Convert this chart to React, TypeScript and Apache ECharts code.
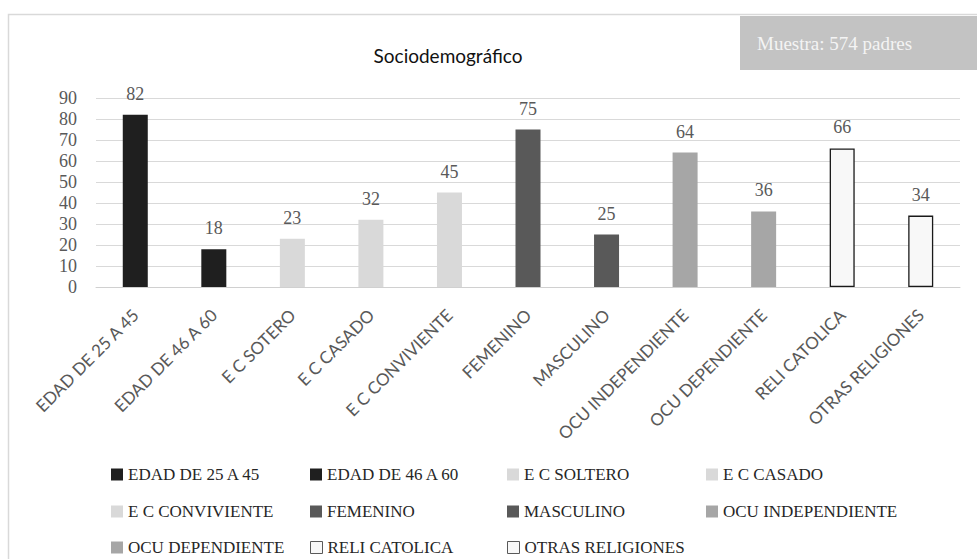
import React, { useEffect, useRef } from "react";
import * as echarts from "echarts";

// Categories on the x axis
const categories = [
  "EDAD DE 25 A 45",
  "EDAD DE 46 A 60",
  "E C SOTERO",
  "E C CASADO",
  "E C CONVIVIENTE",
  "FEMENINO",
  "MASCULINO",
  "OCU INDEPENDIENTE",
  "OCU DEPENDIENTE",
  "RELI CATOLICA",
  "OTRAS RELIGIONES",
];

// Series names as shown in the legend
const seriesNames = [
  "EDAD DE 25 A 45",
  "EDAD DE 46 A 60",
  "E C SOLTERO",
  "E C CASADO",
  "E C CONVIVIENTE",
  "FEMENINO",
  "MASCULINO",
  "OCU INDEPENDIENTE",
  "OCU DEPENDIENTE",
  "RELI CATOLICA",
  "OTRAS RELIGIONES",
];

// Values per category
const values = [82, 18, 23, 32, 45, 75, 25, 64, 36, 66, 34];

// Fill colours per series
const colors = [
  "#1f1f1f",
  "#1f1f1f",
  "#d9d9d9",
  "#d9d9d9",
  "#d9d9d9",
  "#595959",
  "#595959",
  "#a6a6a6",
  "#a6a6a6",
  "#f8f8f8",
  "#f8f8f8",
];

// Outlined bars
const outlined = [false, false, false, false, false, false, false, false, false, true, true];

// Y axis ticks
const yMin = 0;
const yMax = 90;
const yStep = 10;

// Legend grid: 4 columns, items fill row by row
const legendColumnX = [111, 310, 507, 706];
const legendRowY = [472, 509, 545];

const SERIF = "'Liberation Serif', 'DejaVu Serif', serif";
const SANS = "Lato, 'Open Sans', sans-serif";

export default function App() {
  const ref = useRef<HTMLDivElement>(null);

  useEffect(() => {
    if (!ref.current) return;
    const chart = echarts.init(ref.current, undefined, { renderer: "svg" });

    const series = seriesNames.map((name, i) => ({
      name,
      type: "bar",
      stack: "all",
      barWidth: 25,
      data: values.map((v, j) => (j === i ? v : "-")),
      itemStyle: {
        color: colors[i],
        borderColor: outlined[i] ? "#1a1a1a" : colors[i],
        borderWidth: outlined[i] ? 1.3 : 0,
      },
      label: {
        show: true,
        position: "top",
        distance: 12,
        color: "#595959",
        fontFamily: SERIF,
        fontSize: 18,
      },
      emphasis: { disabled: true },
    }));

    const legends = seriesNames.map((name, i) => ({
      orient: "horizontal",
      left: legendColumnX[i % 4],
      top: legendRowY[Math.floor(i / 4)] - 6,
      padding: 0,
      itemWidth: 12,
      itemHeight: 12,
      icon: "rect",
      selectedMode: false,
      data: [
        {
          name,
          itemStyle: outlined[i]
            ? { color: "#f8f8f8", borderColor: "#595959", borderWidth: 1 }
            : { color: colors[i], borderWidth: 0 },
        },
      ],
      textStyle: {
        color: "#262626",
        fontFamily: SERIF,
        fontSize: 17,
      },
    }));

    chart.setOption({
      animation: false,
      backgroundColor: "#ffffff",
      grid: { left: 96, right: 17, top: 98, bottom: 272, containLabel: false },
      legend: legends,
      xAxis: {
        type: "category",
        data: categories,
        axisTick: { show: false },
        axisLine: { show: true, lineStyle: { color: "#d0d0d0", width: 1 } },
        axisLabel: {
          rotate: 45,
          interval: 0,
          margin: 25,
          color: "#595959",
          fontFamily: SANS,
          fontSize: 17,
        },
      },
      yAxis: {
        type: "value",
        min: yMin,
        max: yMax,
        interval: yStep,
        axisLine: { show: false },
        axisTick: { show: false },
        splitLine: { lineStyle: { color: "#d9d9d9", width: 1 } },
        axisLabel: {
          margin: 19,
          color: "#595959",
          fontFamily: SERIF,
          fontSize: 18,
        },
      },
      graphic: [
        {
          type: "rect",
          silent: true,
          shape: { x: 8.5, y: 14.5, width: 1000, height: 700 },
          style: { fill: "none", stroke: "#d9d9d9", lineWidth: 1.5 },
        },
        {
          type: "rect",
          silent: true,
          shape: { x: 740, y: 16, width: 240, height: 54 },
          style: { fill: "#c3c3c3" },
        },
        {
          type: "text",
          silent: true,
          x: 757,
          y: 43,
          style: {
            text: "Muestra: 574 padres",
            fill: "#f4f4f4",
            font: `19px ${SERIF}`,
            textAlign: "left",
            textVerticalAlign: "middle",
          },
        },
        {
          type: "text",
          silent: true,
          x: 448,
          y: 55,
          style: {
            text: "Sociodemográfico",
            fill: "#111111",
            font: `19px ${SANS}`,
            textAlign: "center",
            textVerticalAlign: "middle",
          },
        },
      ],
      series,
    });

    return () => chart.dispose();
  }, []);

  return (
    <div
      ref={ref}
      style={{ position: "fixed", left: 0, top: 0, width: 977, height: 559 }}
    />
  );
}
